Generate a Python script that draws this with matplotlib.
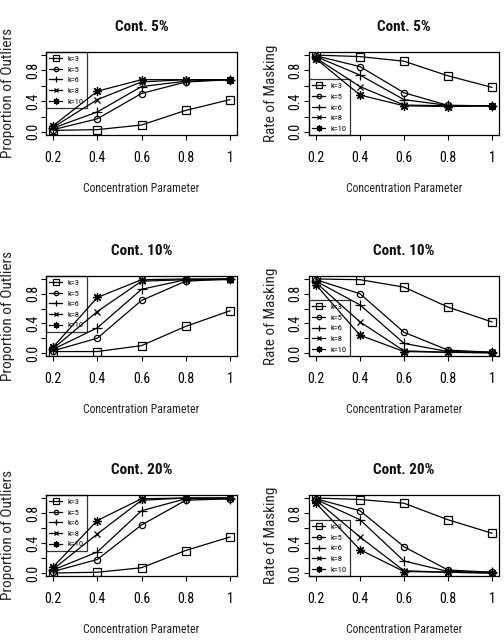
import matplotlib
matplotlib.use("Agg")
import matplotlib.pyplot as plt
import numpy as np

plt.rcParams['font.family'] = ['Roboto Condensed', 'Liberation Sans', 'DejaVu Sans']

x = [0.2, 0.4, 0.6, 0.8, 1.0]
x_ticklabels = ["0.2", "0.4", "0.6", "0.8", "1"]
y_ticks = [0.0, 0.2, 0.4, 0.6, 0.8, 1.0]
y_ticklabels = ["0.0", "", "0.4", "", "0.8", ""]
labels = ["k=3", "k=5", "k=6", "k=8", "k=10"]

# Proportion of Outliers
out5_k3 = [0.02, 0.03, 0.09, 0.28, 0.42]
out5_k5 = [0.03, 0.17, 0.50, 0.65, 0.68]
out5_k6 = [0.05, 0.26, 0.59, 0.66, 0.68]
out5_k8 = [0.06, 0.42, 0.65, 0.68, 0.68]
out5_k10 = [0.08, 0.53, 0.68, 0.68, 0.68]

out10_k3 = [0.02, 0.02, 0.10, 0.36, 0.57]
out10_k5 = [0.03, 0.20, 0.71, 0.97, 1.00]
out10_k6 = [0.05, 0.34, 0.86, 0.99, 1.00]
out10_k8 = [0.06, 0.56, 0.97, 0.99, 0.99]
out10_k10 = [0.08, 0.75, 0.99, 1.00, 1.00]

out20_k3 = [0.00, 0.01, 0.07, 0.30, 0.48]
out20_k5 = [0.02, 0.18, 0.64, 0.97, 0.99]
out20_k6 = [0.04, 0.28, 0.83, 0.99, 0.99]
out20_k8 = [0.05, 0.52, 0.97, 1.00, 1.00]
out20_k10 = [0.08, 0.70, 0.99, 1.00, 1.00]

# Rate of Masking
mask5_k3 = [1.00, 0.98, 0.92, 0.73, 0.58]
mask5_k5 = [0.99, 0.85, 0.51, 0.345, 0.34]
mask5_k6 = [0.98, 0.74, 0.42, 0.345, 0.34]
mask5_k8 = [0.96, 0.59, 0.35, 0.34, 0.34]
mask5_k10 = [0.95, 0.48, 0.34, 0.33, 0.34]

mask10_k3 = [1.00, 0.99, 0.89, 0.62, 0.42]
mask10_k5 = [0.99, 0.80, 0.28, 0.04, 0.01]
mask10_k6 = [0.97, 0.65, 0.13, 0.02, 0.01]
mask10_k8 = [0.95, 0.42, 0.03, 0.01, 0.01]
mask10_k10 = [0.92, 0.24, 0.02, 0.01, 0.00]

mask20_k3 = [1.00, 0.98, 0.93, 0.71, 0.53]
mask20_k5 = [0.99, 0.83, 0.35, 0.04, 0.01]
mask20_k6 = [0.98, 0.71, 0.16, 0.02, 0.01]
mask20_k8 = [0.97, 0.48, 0.03, 0.01, 0.00]
mask20_k10 = [0.93, 0.31, 0.02, 0.01, 0.00]

titles = ["Cont. 5%", "Cont. 10%", "Cont. 20%"]
outliers = [[out5_k3, out5_k5, out5_k6, out5_k8, out5_k10],
            [out10_k3, out10_k5, out10_k6, out10_k8, out10_k10],
            [out20_k3, out20_k5, out20_k6, out20_k8, out20_k10]]
masking = [[mask5_k3, mask5_k5, mask5_k6, mask5_k8, mask5_k10],
           [mask10_k3, mask10_k5, mask10_k6, mask10_k8, mask10_k10],
           [mask20_k3, mask20_k5, mask20_k6, mask20_k8, mask20_k10]]

markers = [dict(marker='s', ms=5.5, mfc='none'),
           dict(marker='o', ms=4.5, mfc='none'),
           dict(marker='+', ms=7),
           dict(marker='x', ms=5),
           dict(marker=(8, 2, 0), ms=6.5)]

W, H = 504, 641
fig = plt.figure(figsize=(W / 100, H / 100), dpi=100)

col_left = [46, 309]
col_width = [191, 190]
row_top = [52, 276, 495]
row_h = [83, 80, 81]


def make_ax(col, row):
    l = col_left[col] / W
    w = col_width[col] / W
    b = 1 - (row_top[row] + row_h[row]) / H
    h = row_h[row] / H
    return fig.add_axes([l, b, w, h])


for r in range(3):
    for c in range(2):
        ax = make_ax(c, r)
        data = outliers[r] if c == 0 else masking[r]
        handles = []
        for s, m in zip(data, markers):
            ln, = ax.plot(x, s, color='black', lw=0.9, mew=0.9, mec='black', **m)
            handles.append(ln)
        ax.set_xlim(0.2 - 0.032, 1.0 + 0.032)
        ax.set_ylim(-0.04, 1.04)
        ax.set_xticks(x)
        ax.set_xticklabels(x_ticklabels, fontsize=10)
        ax.set_yticks(y_ticks)
        ax.set_yticklabels(y_ticklabels, fontsize=10, rotation=90, va='center')
        ax.tick_params(axis='x', length=3.5, width=0.8, pad=8)
        ax.tick_params(axis='y', length=3.5, width=0.8, pad=1)
        for sp in ax.spines.values():
            sp.set_linewidth(0.9)
        ax.set_title(titles[r], fontsize=11, fontweight='bold', pad=15, color='#111111')
        ax.set_xlabel("Concentration Parameter", fontsize=8.5, labelpad=12, color='#222222')
        ax.set_ylabel("Proportion of Outliers" if c == 0 else "Rate of Masking",
                      fontsize=11, color='#222222')
        ax.yaxis.set_label_coords(-0.163, 0.5)
        leg = ax.legend(handles, labels, loc='upper left' if c == 0 else 'lower left',
                        fontsize=6, frameon=True, fancybox=False, edgecolor='black',
                        borderaxespad=0, borderpad=0.4, handlelength=1.5,
                        handletextpad=0.7, labelspacing=0.45, markerscale=0.7)
        leg.get_frame().set_facecolor('none')
        leg.get_frame().set_linewidth(0.9)

fig.savefig("out.png", dpi=100)
